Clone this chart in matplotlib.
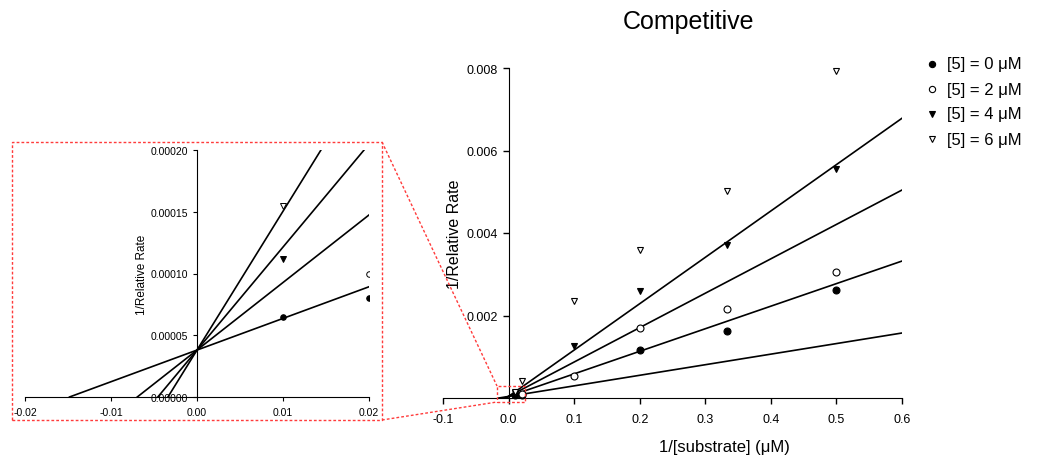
import numpy as np
import matplotlib.pyplot as plt
from matplotlib.lines import Line2D
from matplotlib.patches import Rectangle

plt.rcParams['font.family'] = ['Liberation Sans', 'DejaVu Sans']

# 1/[substrate] values
x_vals = [0.01, 0.02, 0.1, 0.2, 1 / 3, 0.5]

# 1/relative rate, one list per inhibitor concentration (nan = no point)
rate_0uM = [0.000065, 0.00008, np.nan, 0.00117, 0.00163, 0.00263]
rate_2uM = [np.nan, 0.00010, 0.00054, 0.00169, 0.00216, 0.00306]
rate_4uM = [0.000112, np.nan, 0.00127, 0.00260, 0.00371, 0.00555]
rate_6uM = [0.000155, 0.00042, 0.00236, 0.00359, 0.00503, 0.00792]

series_labels = ['0', '2', '4', '6']

# fitted lines: common intercept, four slopes
fit_intercept = 0.000038
fit_slopes = [0.002563, 0.00547, 0.00834, 0.01124]

fig = plt.figure(figsize=(10.39, 4.6), dpi=100)
W, H = 1039, 460


def fig_frac(px, py):
    return px / W, 1 - py / H


marker_styles = [
    dict(marker='o', mfc='black', mec='black'),
    dict(marker='o', mfc='white', mec='black'),
    dict(marker='v', mfc='black', mec='black'),
    dict(marker='v', mfc='white', mec='black'),
]
all_rates = [rate_0uM, rate_2uM, rate_4uM, rate_6uM]


def draw_fits(ax, x_end):
    for s in fit_slopes:
        x0 = -fit_intercept / s
        xs = np.array([x0, x_end])
        ax.plot(xs, fit_intercept + s * xs, color='black', lw=1.2, zorder=2)


# ---------- main plot ----------
ax = fig.add_axes([443 / W, 1 - 399 / H, 459 / W, 330 / H])
draw_fits(ax, 0.6)
for rates, st in zip(all_rates, marker_styles):
    ax.plot(x_vals, rates, ls='none', ms=5, mew=0.8, zorder=3, clip_on=False, **st)

ax.set_xlim(-0.1, 0.6)
ax.set_ylim(0, 0.008)
ax.set_xticks(np.arange(-0.1, 0.61, 0.1))
ax.set_xticklabels(['-0.1', '0.0', '0.1', '0.2', '0.3', '0.4', '0.5', '0.6'])
ax.set_yticks([0.002, 0.004, 0.006, 0.008])
ax.set_yticklabels(['0.002', '0.004', '0.006', '0.008'])
ax.spines['top'].set_visible(False)
ax.spines['right'].set_visible(False)
ax.spines['left'].set_position(('data', 0))
ax.tick_params(labelsize=9, direction='out', length=4, width=1)
ax.tick_params(axis='x', pad=7)
ax.set_ylabel('1/Relative Rate', fontsize=11.5, va='center')
ax.yaxis.set_label_coords(0.026, 0.5)
ax.set_xlabel('1/[substrate] (μM)', fontsize=12, va='center')
ax.xaxis.set_label_coords(0.614, -0.148)

fig.text(*fig_frac(688, 22), 'Competitive', fontsize=18, ha='center', va='center')

# legend drawn by hand at the right
leg_rows = [65, 90, 115, 140]
for yy, lab, st in zip(leg_rows, series_labels, marker_styles):
    fig.add_artist(Line2D([932 / W], [1 - yy / H], ls='none', ms=4.5, mew=0.8,
                          transform=fig.transFigure, **st))
    fig.text(*fig_frac(947, yy), '[5] = ' + lab + ' μM', fontsize=12, ha='left', va='center')

# ---------- inset (zoom near origin) ----------
ins = fig.add_axes([25 / W, 1 - 398 / H, 344 / W, 247 / H])
draw_fits(ins, 0.02)
for rates, st in zip(all_rates, marker_styles):
    ins.plot(x_vals, rates, ls='none', ms=4, mew=0.7, zorder=3, **st)
ins.set_xlim(-0.02, 0.02)
ins.set_ylim(0, 0.0002)
ins.set_xticks([-0.02, -0.01, 0.0, 0.01, 0.02])
ins.set_xticklabels(['-0.02', '-0.01', '0.00', '0.01', '0.02'])
ins.set_yticks([0, 0.00005, 0.0001, 0.00015, 0.0002])
ins.set_yticklabels(['0.00000', '0.00005', '0.00010', '0.00015', '0.00020'])
ins.spines['top'].set_visible(False)
ins.spines['right'].set_visible(False)
ins.spines['left'].set_position(('data', 0))
ins.tick_params(labelsize=7.5, direction='out', length=3, width=0.8)
ins.tick_params(axis='x', pad=4)
ins.set_ylabel('1/Relative Rate', fontsize=8.5, va='center')
ins.yaxis.set_label_coords(0.34, 0.5)
ins.patch.set_alpha(0)

# red dotted zoom box and connectors
red = '#ff3b3b'
x0, y0 = fig_frac(12, 421)
x1, y1 = fig_frac(382, 143)
fig.add_artist(Rectangle((x0, y0), x1 - x0, y1 - y0, transform=fig.transFigure,
                         fill=False, ec=red, ls=(0, (2, 1.5)), lw=1))
sx0, sy0 = fig_frac(497, 403)
sx1, sy1 = fig_frac(525, 387)
fig.add_artist(Rectangle((sx0, sy0), sx1 - sx0, sy1 - sy0, transform=fig.transFigure,
                         fill=False, ec=red, ls=(0, (2, 1.5)), lw=1))
fig.add_artist(Line2D([x1, sx0], [y1, sy1], transform=fig.transFigure,
                      color=red, ls=(0, (2, 1.5)), lw=1))
fig.add_artist(Line2D([x1, sx0], [y0, sy0], transform=fig.transFigure,
                      color=red, ls=(0, (2, 1.5)), lw=1))

fig.savefig('out.png', dpi=100)
